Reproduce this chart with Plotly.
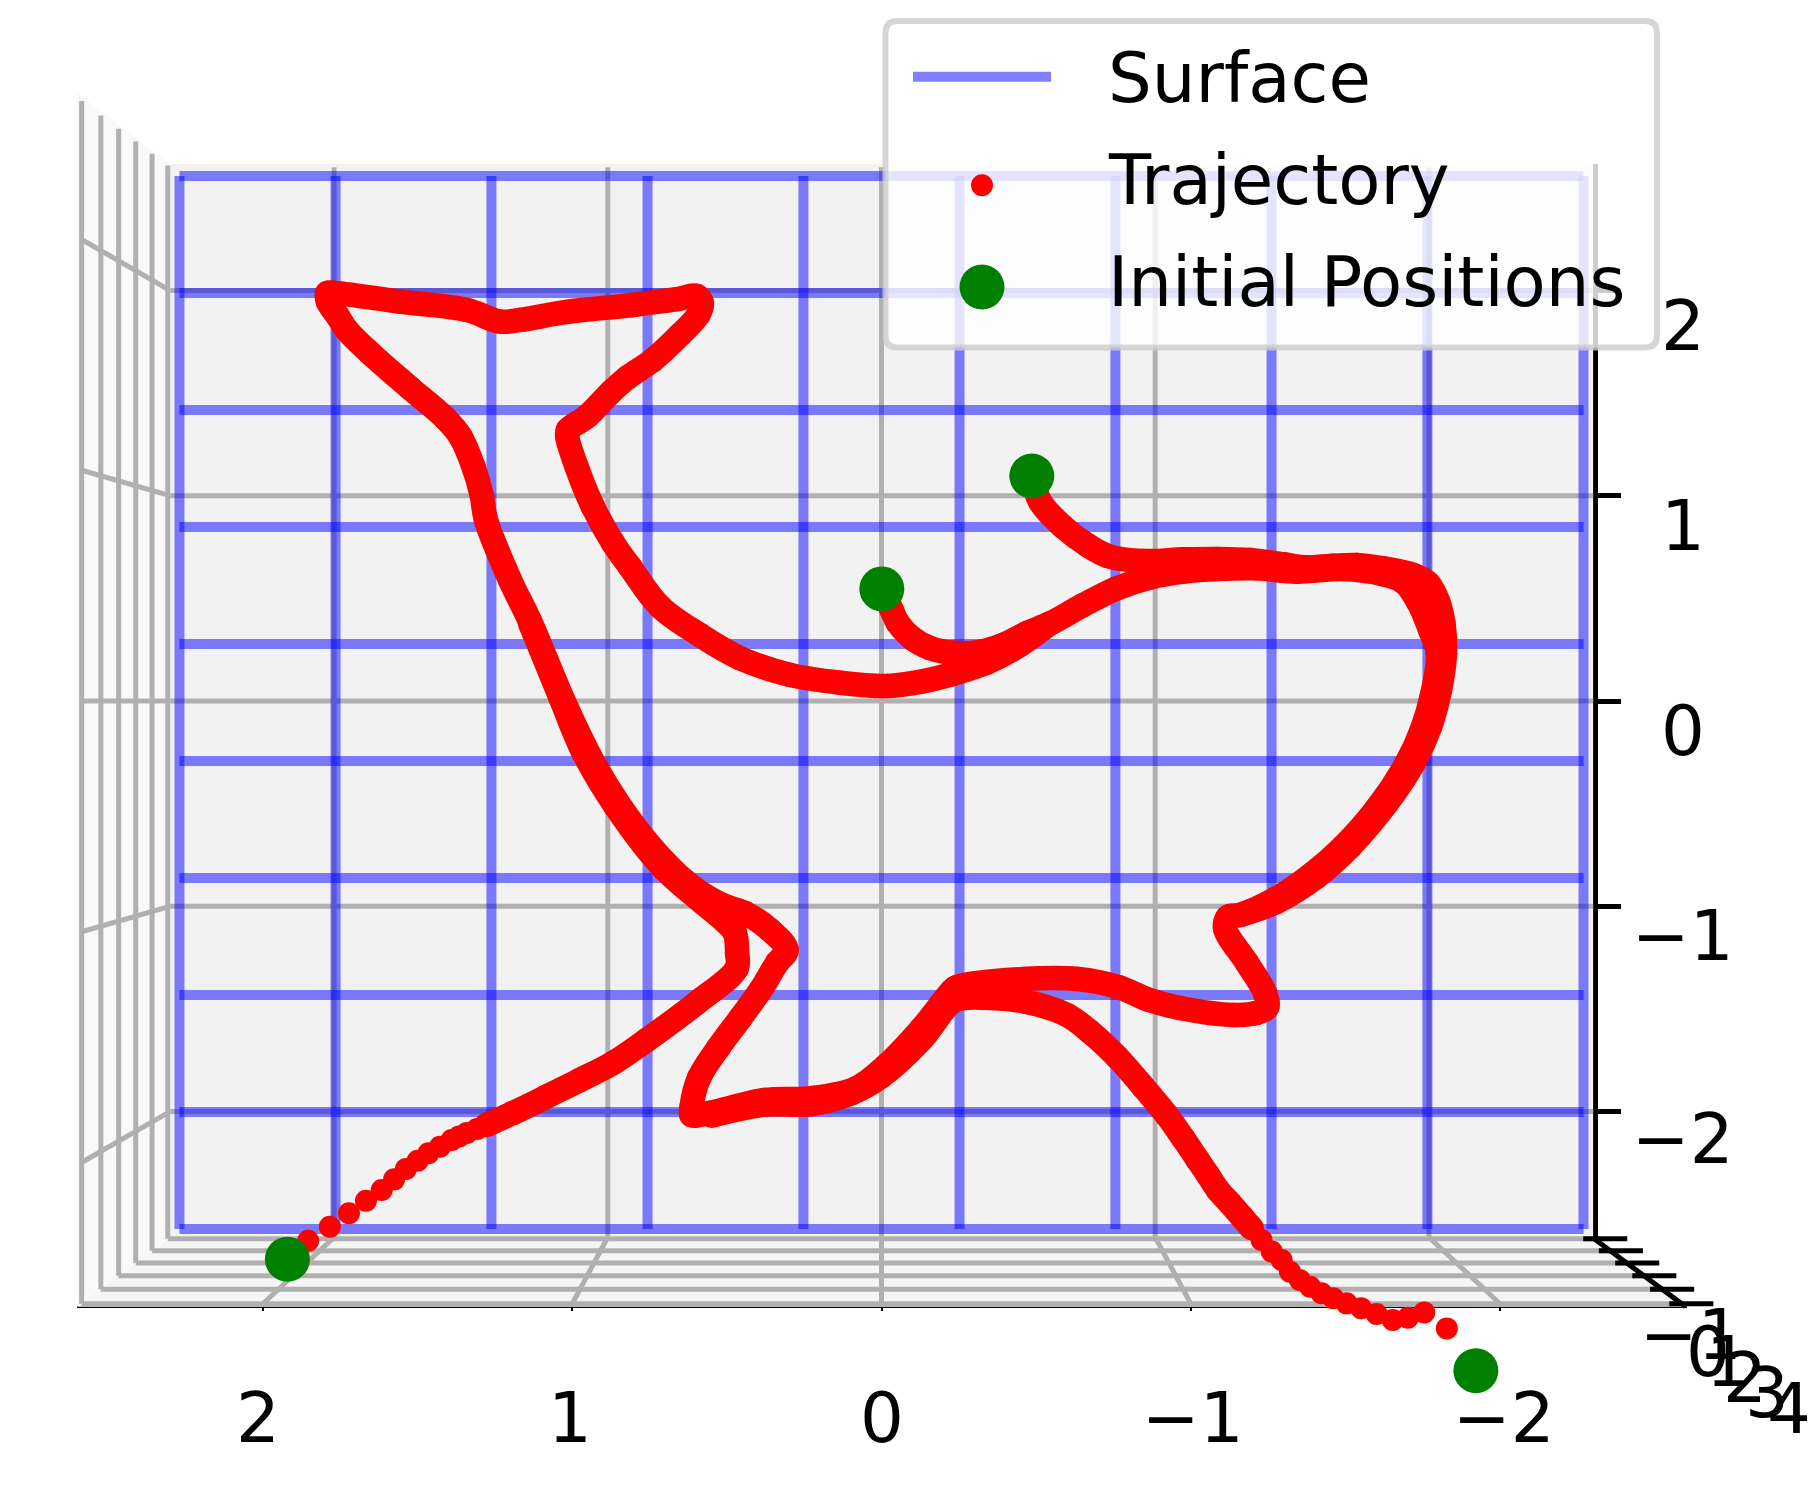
import plotly.graph_objects as go

# ---------- chart values ----------
x_ticks = [2, 1, 0, -1, -2]
y_ticks = [-2, -1, 0, 1, 2]
z_ticks = [-1, 0, 1, 2, 3, 4]
# perspective factor of each depth tick (back wall = 1)
z_depth = [1.003, 1.025, 1.048, 1.072, 1.097, 1.124]
surface_x = [-2.5, -1.944, -1.389, -0.833, -0.278, 0.278, 0.833, 1.389, 1.944, 2.5]
surface_y = [-2.5, -1.944, -1.389, -0.833, -0.278, 0.278, 0.833, 1.389, 1.944, 2.5]
surface_depth = 1.026

initial_x = [-0.001, -0.486, 1.921, -1.922]
initial_y = [0.546, 1.096, -2.719, -3.262]

lap_x = [-0.001, -0.033, -0.053, -0.098, -0.157, -0.231, -0.319, -0.393, -0.470, -0.545, -0.653, -0.761, -0.868, -0.976,
         -1.084, -1.213, -1.343, -1.493, -1.623, -1.687, -1.735, -1.774, -1.799, -1.779, -1.747, -1.698, -1.606, -1.493,
         -1.396, -1.278, -1.159, -1.121, -1.111, -1.182, -1.240, -1.247, -1.211, -1.140, -0.965, -0.865, -0.765, -0.635,
         -0.461, -0.244, -0.230, -0.128, -0.014, 0.080, 0.225, 0.377, 0.558, 0.614, 0.614, 0.590, 0.528, 0.456, 0.391,
         0.338, 0.307, 0.361, 0.441, 0.522, 0.633, 0.787, 0.920, 1.018, 1.137, 1.201, 1.279, 1.293, 1.318, 1.361, 1.411,
         1.525, 1.654, 1.729, 1.757, 1.790, 1.792, 1.774, 1.557, 1.341, 1.234, 1.169, 1.018, 0.804, 0.662, 0.598, 0.581,
         0.593, 0.652, 0.739, 0.824, 0.878, 0.953, 1.014, 1.016, 0.986, 0.933, 0.868, 0.813, 0.716, 0.587, 0.458, 0.296,
         0.134, -0.017, -0.124, -0.231, -0.341, -0.448, -0.545]
lap_y = [0.546, 0.443, 0.380, 0.307, 0.258, 0.235, 0.240, 0.273, 0.331, 0.378, 0.468, 0.549, 0.601, 0.630,
         0.643, 0.646, 0.630, 0.643, 0.617, 0.581, 0.484, 0.346, 0.234, 0.021, -0.141, -0.303, -0.515, -0.710,
         -0.839, -0.961, -1.042, -1.051, -1.107, -1.276, -1.422, -1.491, -1.520, -1.529, -1.495, -1.456, -1.393, -1.354,
         -1.354, -1.393, -1.408, -1.598, -1.778, -1.885, -1.934, -1.943, -2.007, -2.017, -1.976, -1.836, -1.690, -1.544, -1.408,
         -1.276, -1.213, -1.115, -1.033, -0.989, -0.880, -0.632, -0.331, -0.033, 0.390, 0.589, 0.882, 1.003, 1.135, 1.287, 1.378,
         1.525, 1.695, 1.807, 1.872, 1.945, 1.987, 1.989, 1.945, 1.905, 1.848, 1.856, 1.895, 1.929, 1.957, 1.973, 1.939,
         1.880, 1.783, 1.661, 1.573, 1.500, 1.385, 1.320, 1.287, 1.141, 0.946, 0.770, 0.653, 0.459, 0.321, 0.209, 0.127,
         0.089, 0.073, 0.093, 0.132, 0.187, 0.273, 0.378]

upper_x = [-0.486, -0.513, -0.587, -0.665, -0.733, -0.847, -0.976, -1.084, -1.192, -1.299, -1.375, -1.461, -1.537, -1.623,
           -1.720, -1.768, -1.800, -1.817, -1.822, -1.806, -1.774, -1.720, -1.634, -1.515, -1.407, -1.278, -1.159]
upper_y = [1.096, 0.971, 0.849, 0.760, 0.706, 0.682, 0.690, 0.692, 0.687, 0.666, 0.651, 0.659, 0.662, 0.646,
           0.614, 0.573, 0.484, 0.378, 0.232, 0.054, -0.125, -0.303, -0.498, -0.710, -0.856, -0.978, -1.042]

right_tail_x = [-1.922, -1.828, -1.755, -1.702, -1.653, -1.601, -1.551, -1.504, -1.461, -1.423, -1.386, -1.353, -1.321,
                -1.294, -1.262, -1.229, -1.197]
right_tail_y = [-3.262, -3.056, -2.978, -3.004, -3.015, -2.986, -2.958, -2.934, -2.909, -2.885, -2.853, -2.820, -2.780,
                -2.723, -2.682, -2.625, -2.568]
right_body_x = [-1.197, -1.165, -1.127, -1.088, -1.056, -1.023, -0.975, -0.922, -0.846, -0.761, -0.674, -0.599, -0.467,
                -0.361, -0.259, -0.223, -0.128, 0.002, 0.095, 0.225, 0.377, 0.549]
right_body_y = [-2.568, -2.512, -2.447, -2.382, -2.309, -2.236, -2.129, -2.017, -1.879, -1.733, -1.611, -1.529, -1.465,
                -1.447, -1.448, -1.471, -1.651, -1.830, -1.909, -1.963, -1.966, -2.020]

left_tail_x = [1.921, 1.854, 1.784, 1.722, 1.667, 1.616, 1.576, 1.538, 1.500, 1.465, 1.428, 1.390, 1.366, 1.341, 1.308, 1.277]
left_tail_y = [-2.719, -2.629, -2.561, -2.495, -2.434, -2.382, -2.330, -2.280, -2.239, -2.203, -2.171, -2.138, -2.121, -2.104, -2.085, -2.065]
left_body_x = [1.277, 1.192, 1.083, 0.975, 0.868, 0.759, 0.598, 0.468, 0.467, 0.474, 0.501, 0.703, 0.859, 0.965, 1.040, 1.137]
left_body_y = [-2.065, -2.007, -1.927, -1.846, -1.763, -1.651, -1.471, -1.301, -1.227, -1.130, -1.081, -0.818, -0.515, -0.247, 0.024, 0.381]

legend_labels = ["Surface", "Trajectory", "Initial Positions"]

# ---------- page and view ----------
W, H = 1809, 1506
FONT = "DejaVu Sans"
SIZE = 69
BLUE = "rgba(0,0,255,0.5)"
GRID = "#b0b0b0"
GW = 5
STROKE = 24.5
DOT = 22
X_FORESHORTEN = 0.88504   # back-wall x scale over front x scale
LIM = 2.6


def px(x):
    return x / W


def py(y):
    return 1 - y / H


def pj_x(x, s=1.0):
    return x * s * X_FORESHORTEN


def label(v):
    return str(v).replace("-", "\u2212")


fig = go.Figure()

# the visible axes own the first subplot; it needs one empty trace to be drawn
fig.add_trace(go.Scatter(x=[0], y=[0], mode="markers", marker=dict(opacity=0), showlegend=False, hoverinfo="skip"))


def line(xs, ys, color, width, name=None):
    fig.add_trace(go.Scatter(x=xs, y=ys, xaxis="x2", yaxis="y2", mode="lines", cliponaxis=False, showlegend=False,
                             hoverinfo="skip", name=name, line=dict(color=color, width=width)))


def pane(xs, ys, color):
    fig.add_trace(go.Scatter(x=xs, y=ys, xaxis="x2", yaxis="y2", mode="lines", fill="toself", fillcolor=color,
                             cliponaxis=False, showlegend=False, hoverinfo="skip", line=dict(width=0)))


# panes
pane([2.6016, pj_x(LIM), pj_x(LIM), 2.6016], [2.96, 2.616, -2.616, -2.95], "#f9f9f9")
pane([2.6016, pj_x(LIM), pj_x(-LIM), -2.6046], [-2.95, -2.616, -2.616, -2.95], "#f5f5f5")
pane([pj_x(LIM), pj_x(-LIM), pj_x(-LIM), pj_x(LIM)], [2.616, 2.616, -2.616, -2.616], "#f2f2f2")

# grid on the three panes
for v in x_ticks:
    line([pj_x(v), pj_x(v)], [-2.612, LIM], GRID, GW)
    line([pj_x(v), pj_x(v, 1.13)], [-2.612, -2.612 * 1.124], GRID, GW)
for v in y_ticks:
    line([pj_x(LIM), pj_x(-LIM)], [v, v], GRID, GW)
    line([pj_x(LIM, 1.124), pj_x(LIM)], [v * 1.124, v], GRID, GW)
for s in z_depth:
    line([pj_x(LIM, s), pj_x(-LIM, s)], [-2.612 * s, -2.612 * s], GRID, GW)
    line([pj_x(LIM, s), pj_x(LIM, s)], [-2.612 * s, LIM * s], GRID, GW)

# depth axis
line([pj_x(-LIM), pj_x(-LIM, 1.13)], [-2.616, -2.95], "black", 5)
for s in z_depth:
    line([pj_x(-LIM, s) + 0.039, pj_x(-LIM, s) - 0.1035], [-2.612 * s, -2.612 * s], "black", 5)

# wire surface
y_offset = -0.0073
for v in surface_x:
    line([pj_x(v, surface_depth)] * 2,
         [surface_y[0] * surface_depth + y_offset, surface_y[-1] * surface_depth + y_offset], BLUE, 10, "Surface")
for v in surface_y:
    line([pj_x(surface_x[0], surface_depth), pj_x(surface_x[-1], surface_depth)],
         [v * surface_depth + y_offset] * 2, BLUE, 10, "Surface")


# trajectories
def body(xs, ys):
    fig.add_trace(go.Scatter(x=xs, y=ys, xaxis="x2", yaxis="y2", mode="lines+markers", cliponaxis=False,
                             showlegend=False, hoverinfo="skip", name="Trajectory",
                             line=dict(color="red", width=STROKE, shape="spline", smoothing=1.0),
                             marker=dict(color="red", size=STROKE, line=dict(width=0))))


def tail(xs, ys):
    fig.add_trace(go.Scatter(x=xs, y=ys, xaxis="x2", yaxis="y2", mode="markers", cliponaxis=False, showlegend=False,
                             hoverinfo="skip", name="Trajectory", marker=dict(color="red", size=DOT, line=dict(width=0))))


body(lap_x, lap_y)
body(upper_x, upper_y)
body(right_body_x, right_body_y)
body(left_body_x, left_body_y)
tail(right_tail_x, right_tail_y)
tail(left_tail_x, left_tail_y)

fig.add_trace(go.Scatter(x=initial_x, y=initial_y, xaxis="x2", yaxis="y2", mode="markers", cliponaxis=False,
                         showlegend=False, hoverinfo="skip", name="Initial Positions",
                         marker=dict(color="green", size=45, line=dict(width=0))))

annotations = []
text_font = dict(family=FONT, size=SIZE, color="black")
# x tick labels spread a little wider than their ticks, as in the 3D view
for v, shift in zip(x_ticks, [-5, -2, 0, 2, 4]):
    annotations.append(dict(x=v, xref="x", xshift=shift, y=py(1418), yref="paper", text=label(v), showarrow=False,
                            xanchor="center", yanchor="middle", font=text_font))
# y tick labels sit below their ticks
for v, shift in zip(y_ticks, [-27, -30, -30, -30, -36]):
    annotations.append(dict(x=px(1683), xref="paper", y=v, yref="y", yshift=shift, text=label(v),
                            showarrow=False, xanchor="center", yanchor="middle", font=text_font))
# depth tick labels overlap each other in the reference
for v, (lx, ly) in zip(z_ticks, [(1691, 1335), (1708, 1352), (1728, 1362), (1745, 1378), (1767, 1393), (1789, 1409)]):
    annotations.append(dict(x=px(lx), xref="paper", y=py(ly), yref="paper", text=label(v),
                            showarrow=False, xanchor="center", yanchor="middle", font=text_font))
# legend text
for name, ly in zip(legend_labels, [78.5, 179.5, 281.5]):
    annotations.append(dict(x=px(1106), xref="paper", y=py(ly), yref="paper", text=name, showarrow=False,
                            xanchor="left", yanchor="middle", font=text_font))


def rounded(x0, y0, x1, y1, r):
    return (f"M {px(x0 + r)} {py(y0)} L {px(x1 - r)} {py(y0)} Q {px(x1)} {py(y0)} {px(x1)} {py(y0 + r)} "
            f"L {px(x1)} {py(y1 - r)} Q {px(x1)} {py(y1)} {px(x1 - r)} {py(y1)} "
            f"L {px(x0 + r)} {py(y1)} Q {px(x0)} {py(y1)} {px(x0)} {py(y1 - r)} "
            f"L {px(x0)} {py(y0 + r)} Q {px(x0)} {py(y0)} {px(x0 + r)} {py(y0)} Z")


def dot(cx, cy, d, color):
    return dict(type="circle", xref="paper", yref="paper", layer="above", x0=px(cx - d / 2), x1=px(cx + d / 2),
                y0=py(cy - d / 2), y1=py(cy + d / 2), fillcolor=color, line=dict(width=0))


shapes = [
    dict(type="path", xref="paper", yref="paper", layer="above", path=rounded(885.5, 21, 1657, 347.5, 12),
         fillcolor="rgba(255,255,255,0.8)", line=dict(color="rgba(204,204,204,0.8)", width=6)),
    dict(type="line", xref="paper", yref="paper", layer="above", x0=px(913), x1=px(1051), y0=py(76.7), y1=py(76.7),
         line=dict(color=BLUE, width=10)),
    dot(982, 185.3, DOT, "red"),
    dot(982, 287, 45, "green"),
]

fig.update_layout(
    width=W, height=H, autosize=False, margin=dict(l=0, r=0, t=0, b=0), showlegend=False,
    paper_bgcolor="white", plot_bgcolor="rgba(0,0,0,0)", annotations=annotations, shapes=shapes,
    font=dict(family=FONT, size=SIZE, color="black"),
    xaxis=dict(domain=[px(77), px(1687)], range=[2.6016, -2.6046], anchor="free", position=py(1307),
               tickmode="array", tickvals=x_ticks, showticklabels=False,
               showgrid=False, zeroline=False, showline=True, linecolor="black", linewidth=1.5,
               ticks="outside", ticklen=3, tickwidth=2, tickcolor="black"),
    yaxis=dict(domain=[py(1238), py(164)], range=[-2.616, 2.616], anchor="free", position=px(1595), side="right",
               tickmode="array", tickvals=y_ticks, showticklabels=False,
               showgrid=False, zeroline=False, showline=True, linecolor="black", linewidth=6,
               ticks="outside", ticklen=23, tickwidth=5, tickcolor="black"),
    # the data axes span the whole page so that nothing is cut off outside the 3D box
    xaxis2=dict(domain=[0, 1], range=[2.8504, -2.9992], anchor="y2", visible=False),
    yaxis2=dict(domain=[0, 1], range=[-3.9211, 3.4145], anchor="x2", visible=False),
)

fig.write_html("out.html", config={"displayModeBar": False}, post_script="document.body.style.margin='0';")
